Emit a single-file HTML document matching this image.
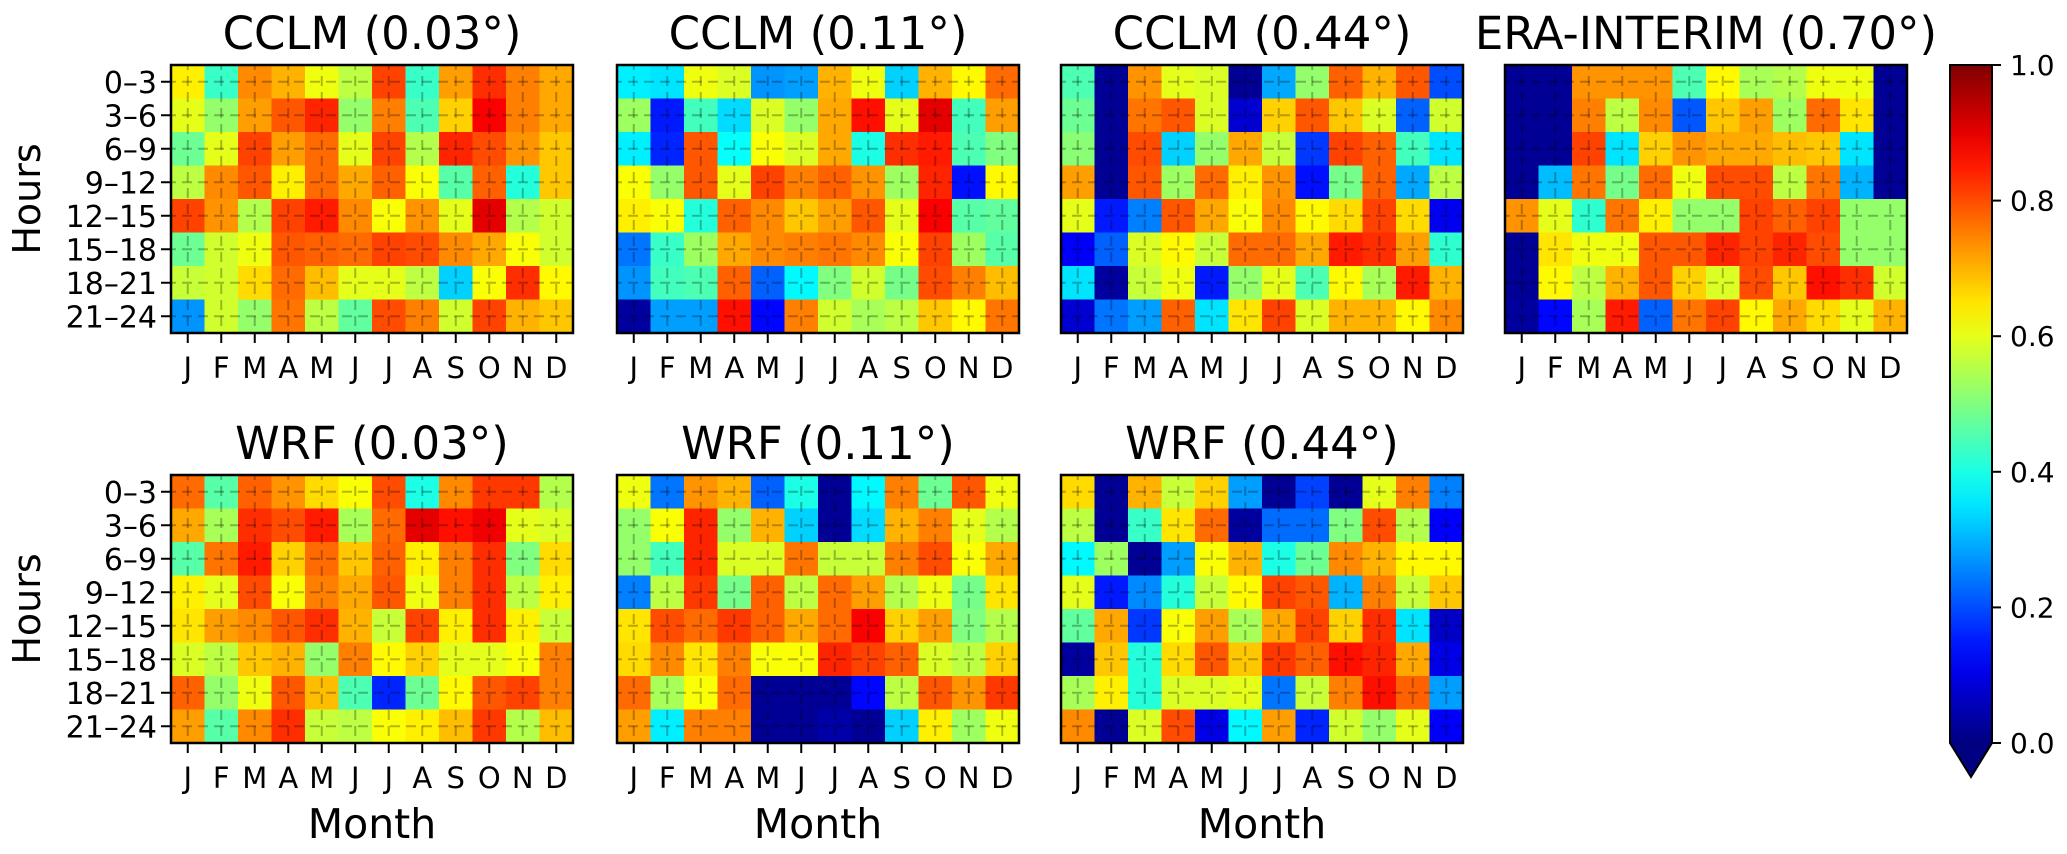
<!DOCTYPE html>
<html><head><meta charset="utf-8"><style>
html,body{margin:0;padding:0;background:#fff;}
svg{display:block;font-family:"DejaVu Sans","Liberation Sans",sans-serif;}
</style></head><body>
<svg id="fig" width="2067" height="854" viewBox="0 0 2067 854" xmlns="http://www.w3.org/2000/svg"></svg>
<script>
const months = ["J","F","M","A","M","J","J","A","S","O","N","D"];
const hours = ["0–3","3–6","6–9","9–12","12–15","15–18","18–21","21–24"];
const titles = ["CCLM (0.03°)","CCLM (0.11°)","CCLM (0.44°)","ERA-INTERIM (0.70°)","WRF (0.03°)","WRF (0.11°)","WRF (0.44°)"];
const cbTicks = [0.0,0.2,0.4,0.6,0.8,1.0];
const cclm003 = [
[0.64,0.43,0.74,0.70,0.61,0.56,0.81,0.43,0.72,0.83,0.75,0.71],
[0.60,0.52,0.72,0.79,0.84,0.52,0.75,0.45,0.67,0.88,0.75,0.71],
[0.48,0.60,0.81,0.72,0.77,0.60,0.81,0.55,0.84,0.80,0.73,0.68],
[0.56,0.74,0.79,0.64,0.77,0.71,0.78,0.62,0.46,0.78,0.41,0.68],
[0.81,0.73,0.55,0.81,0.85,0.74,0.62,0.73,0.60,0.90,0.55,0.58],
[0.48,0.58,0.61,0.79,0.78,0.77,0.81,0.80,0.74,0.71,0.62,0.58],
[0.57,0.58,0.66,0.77,0.69,0.60,0.60,0.56,0.33,0.62,0.83,0.63],
[0.27,0.58,0.52,0.76,0.56,0.47,0.80,0.75,0.58,0.81,0.70,0.68]];
const cclm011 = [
[0.36,0.35,0.61,0.59,0.27,0.28,0.70,0.61,0.33,0.70,0.63,0.77],
[0.53,0.15,0.44,0.34,0.59,0.52,0.71,0.86,0.60,0.90,0.44,0.72],
[0.36,0.16,0.79,0.38,0.62,0.59,0.71,0.40,0.83,0.85,0.45,0.50],
[0.62,0.52,0.79,0.60,0.81,0.75,0.78,0.73,0.53,0.84,0.14,0.63],
[0.64,0.62,0.41,0.78,0.74,0.68,0.72,0.79,0.60,0.88,0.46,0.47],
[0.24,0.43,0.53,0.71,0.74,0.75,0.76,0.74,0.62,0.81,0.53,0.46],
[0.27,0.44,0.45,0.78,0.22,0.37,0.50,0.58,0.49,0.80,0.75,0.69],
[0.03,0.28,0.28,0.86,0.13,0.75,0.58,0.54,0.56,0.68,0.63,0.76]];
const cclm044 = [
[0.45,0.02,0.73,0.60,0.59,0.02,0.29,0.52,0.78,0.70,0.79,0.20],
[0.48,0.02,0.76,0.79,0.59,0.08,0.67,0.79,0.68,0.59,0.22,0.58],
[0.51,0.02,0.80,0.33,0.52,0.71,0.57,0.18,0.81,0.78,0.44,0.35],
[0.72,0.02,0.79,0.53,0.77,0.64,0.73,0.14,0.49,0.78,0.29,0.56],
[0.60,0.15,0.25,0.79,0.71,0.62,0.74,0.63,0.66,0.81,0.66,0.11],
[0.12,0.22,0.59,0.63,0.57,0.77,0.77,0.71,0.85,0.83,0.72,0.42],
[0.35,0.03,0.57,0.61,0.15,0.52,0.60,0.45,0.63,0.54,0.85,0.70],
[0.08,0.24,0.28,0.78,0.35,0.65,0.81,0.59,0.70,0.70,0.63,0.74]];
const eraInterim = [
[0.02,0.02,0.73,0.73,0.73,0.45,0.63,0.54,0.55,0.61,0.61,0.02],
[0.02,0.02,0.75,0.56,0.74,0.21,0.68,0.72,0.53,0.77,0.65,0.02],
[0.02,0.02,0.81,0.35,0.67,0.73,0.71,0.71,0.69,0.68,0.35,0.02],
[0.02,0.31,0.76,0.49,0.77,0.61,0.80,0.80,0.56,0.76,0.30,0.02],
[0.73,0.60,0.42,0.76,0.64,0.52,0.52,0.81,0.78,0.81,0.52,0.52],
[0.02,0.65,0.61,0.61,0.79,0.79,0.84,0.81,0.84,0.80,0.52,0.52],
[0.02,0.63,0.56,0.70,0.79,0.67,0.59,0.80,0.68,0.86,0.83,0.58],
[0.03,0.13,0.54,0.85,0.22,0.76,0.81,0.63,0.71,0.66,0.60,0.70]];
const wrf003 = [
[0.77,0.46,0.78,0.73,0.66,0.62,0.80,0.40,0.74,0.82,0.82,0.55],
[0.71,0.54,0.83,0.80,0.85,0.54,0.77,0.90,0.86,0.89,0.60,0.59],
[0.46,0.76,0.85,0.67,0.77,0.68,0.78,0.64,0.75,0.83,0.50,0.66],
[0.64,0.60,0.80,0.62,0.75,0.71,0.79,0.61,0.75,0.83,0.56,0.64],
[0.65,0.72,0.74,0.79,0.83,0.70,0.57,0.81,0.64,0.83,0.64,0.57],
[0.59,0.56,0.68,0.70,0.52,0.75,0.63,0.67,0.60,0.60,0.62,0.75],
[0.78,0.52,0.61,0.79,0.69,0.45,0.16,0.48,0.63,0.79,0.81,0.75],
[0.72,0.46,0.74,0.83,0.57,0.56,0.62,0.64,0.69,0.82,0.55,0.69]];
const wrf011 = [
[0.61,0.24,0.73,0.70,0.22,0.40,0.02,0.37,0.75,0.48,0.79,0.61],
[0.52,0.62,0.84,0.52,0.70,0.33,0.02,0.34,0.70,0.75,0.60,0.55],
[0.52,0.44,0.84,0.59,0.59,0.76,0.57,0.57,0.75,0.80,0.62,0.71],
[0.25,0.56,0.82,0.49,0.78,0.56,0.77,0.72,0.55,0.61,0.49,0.65],
[0.65,0.80,0.77,0.82,0.78,0.71,0.77,0.88,0.67,0.72,0.50,0.55],
[0.66,0.74,0.65,0.75,0.62,0.62,0.84,0.81,0.78,0.59,0.56,0.67],
[0.77,0.54,0.62,0.77,0.02,0.02,0.02,0.13,0.56,0.79,0.73,0.82],
[0.72,0.36,0.75,0.75,0.02,0.02,0.04,0.02,0.33,0.64,0.53,0.61]];
const wrf044 = [
[0.66,0.02,0.70,0.57,0.67,0.28,0.02,0.19,0.02,0.60,0.75,0.25],
[0.56,0.02,0.43,0.65,0.77,0.03,0.23,0.23,0.50,0.80,0.55,0.12],
[0.37,0.53,0.02,0.28,0.62,0.70,0.40,0.48,0.74,0.70,0.63,0.63],
[0.60,0.15,0.26,0.41,0.57,0.63,0.81,0.79,0.30,0.75,0.57,0.68],
[0.47,0.71,0.18,0.62,0.72,0.54,0.71,0.81,0.67,0.83,0.35,0.07],
[0.03,0.68,0.41,0.66,0.79,0.68,0.82,0.78,0.86,0.84,0.71,0.10],
[0.54,0.64,0.41,0.59,0.59,0.60,0.24,0.57,0.75,0.86,0.78,0.28],
[0.74,0.02,0.59,0.80,0.10,0.37,0.72,0.16,0.58,0.52,0.60,0.12]];
const panelData = [cclm003,cclm011,cclm044,eraInterim,wrf003,wrf011,wrf044];

const NS="http://www.w3.org/2000/svg";
const svg=document.getElementById('fig');
function mk(tag,attrs,parent){const e=document.createElementNS(NS,tag);for(const k in attrs)e.setAttribute(k,attrs[k]);(parent||svg).appendChild(e);return e;}
function jet(v){v=Math.max(0,Math.min(1,v));
 const c=x=>Math.max(0,Math.min(1,x));
 const r=c(Math.min(4*v-1.5,-4*v+4.5)),g=c(Math.min(4*v-0.5,-4*v+3.5)),b=c(Math.min(4*v+0.5,-4*v+2.5));
 return `rgb(${Math.round(r*255)},${Math.round(g*255)},${Math.round(b*255)})`;}
const PW=402,PH=268,CW=PW/12,CH=PH/8;
const lefts=[171,617,1061,1505,171,617,1061];
const tops=[65,65,65,65,475,475,475];
function xScale(p,i){return lefts[p]+i*CW;}
function yScale(p,j){return tops[p]+j*CH;}

panelData.forEach((data,p)=>{
 const g=mk('g',{});
 
 
 data.forEach((row,j)=>row.forEach((v,i)=>{
  const r=mk('rect',{x:xScale(p,i),y:yScale(p,j),width:CW+0.5,height:CH+0.5,fill:jet(v)},g);
  
  
 }));
 const L=lefts[p],T=tops[p];
 for(let i=0;i<12;i++){const x=xScale(p,i)+CW/2;
  mk('line',{x1:x,y1:T,x2:x,y2:T+PH,stroke:'rgba(0,0,0,0.28)','stroke-width':2,'stroke-dasharray':'10 6','stroke-dashoffset':-11},g);
  mk('line',{x1:x,y1:T+PH,x2:x,y2:T+PH+10,stroke:'#000','stroke-width':2},g);
  const t=mk('text',{x:x,y:T+PH+45,'font-size':29,'text-anchor':'middle',fill:'#000'},g);
  t.textContent=months[i];
  
  
 }
 for(let j=0;j<8;j++){const y=yScale(p,j)+CH/2;
  mk('line',{x1:L,y1:y,x2:L+PW,y2:y,stroke:'rgba(0,0,0,0.28)','stroke-width':2,'stroke-dasharray':'10 6','stroke-dashoffset':-11},g);
  if(p===0||p===4){
   mk('line',{x1:L-10,y1:y,x2:L,y2:y,stroke:'#000','stroke-width':2},g);
   const t=mk('text',{x:L-14,y:y+11,'font-size':30,'text-anchor':'end',fill:'#000'},g);
   t.textContent=hours[j];
   
   
  }
 }
 mk('rect',{x:L,y:T,width:PW,height:PH,fill:'none',stroke:'#000','stroke-width':2.5},g);
 const tt=mk('text',{x:L+PW/2,y:T-16,'font-size':45,'text-anchor':'middle',fill:'#000'},g);
 tt.textContent=titles[p];
 
 
 if(p>=4){
  const mt=mk('text',{x:L+PW/2,y:838,'font-size':41,'text-anchor':'middle',fill:'#000'},g);
  mt.textContent='Month';
  
  
 }
});
[0,4].forEach(p=>{
 const cy=tops[p]+PH/2;
 const t=mk('text',{x:40,y:cy,'font-size':38,'text-anchor':'middle',transform:`rotate(-90 40 ${cy})`,fill:'#000'});
 t.textContent='Hours';
 
 
});
// colorbar
const cbX=1950,cbW=42,cbT=65,cbB=743;
const defs=mk('defs',{});
const grad=mk('linearGradient',{id:'jetg',x1:0,y1:1,x2:0,y2:0},defs);
for(let k=0;k<=20;k++){mk('stop',{offset:k/20,'stop-color':jet(k/20)},grad);}
const cb=mk('g',{});


mk('rect',{x:cbX,y:cbT,width:cbW,height:cbB-cbT,fill:'url(#jetg)'},cb);
mk('polygon',{points:`${cbX},${cbB} ${cbX+cbW},${cbB} ${cbX+cbW/2},${cbB+34}`,fill:jet(0)},cb);
mk('polygon',{points:`${cbX},${cbT} ${cbX+cbW},${cbT} ${cbX+cbW},${cbB} ${cbX+cbW/2},${cbB+34} ${cbX},${cbB}`,fill:'none',stroke:'#000','stroke-width':2},cb);
cbTicks.forEach(v=>{const y=cbB-v*(cbB-cbT);
 mk('line',{x1:cbX+cbW,y1:y,x2:cbX+cbW+9,y2:y,stroke:'#000','stroke-width':2},cb);
 const t=mk('text',{x:cbX+cbW+18,y:y+10,'font-size':28,fill:'#000'},cb);
 t.textContent=v.toFixed(1);
 
 
});
</script>
</body></html>
